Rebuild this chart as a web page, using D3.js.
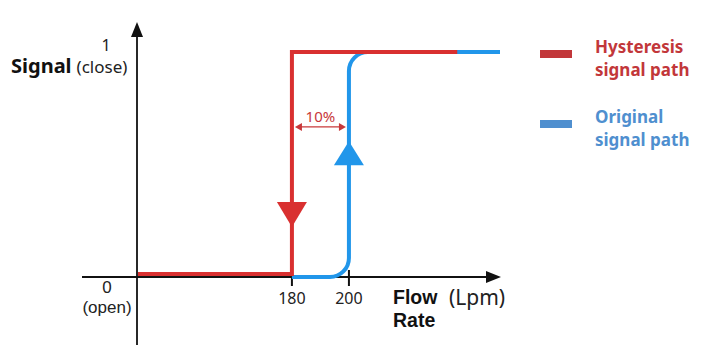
<!DOCTYPE html>
<html><head><meta charset="utf-8">
<script src="https://cdn.jsdelivr.net/npm/d3@7"></script>
<style>
html,body{margin:0;padding:0;background:#fff;}
svg{display:block;font-family:"Noto Sans",sans-serif;}
</style></head>
<body><svg id="c" width="720" height="360"></svg>
<script>
// ---- data ----
const xTickValues = [180, 200];
const xTickLabels = ["180", "200"];
const yTickValues = [0, 1];
const yTickLabels = ["0", "1"];
const yTickSubLabels = ["(open)", "(close)"];
const seriesNames = ["Hysteresis\nsignal path", "Original\nsignal path"];
const hysteresisPath = [[126, 0], [180, 0], [180, 1], [238, 1]];
const originalPath = [[180, 0], [200, 0], [200, 1], [253, 1]];
const hysteresisArrow = {x: 180, y: 0.28, dir: "down"};
const originalArrow = {x: 200, y: 0.55, dir: "up"};
const gapLabel = "10%";
const gapLevel = 0.667;

// ---- layout / style ----
const red = "#d93030", blue = "#2196ea";
const legRed = "#c2373a", legBlue = "#4f8fcf";
const svg = d3.select("#c");
const x = d3.scaleLinear().domain([126, 253]).range([138, 500]);
const y = d3.scaleLinear().domain([0, 1]).range([277, 52]);

// axes
const axisCol = "#111";
svg.append("line").attr("x1", 137).attr("x2", 137).attr("y1", 345).attr("y2", 30)
  .attr("stroke", axisCol).attr("stroke-width", 1.8);
svg.append("path").attr("d", "M137,22 L131,37 L143,37 Z").attr("fill", axisCol);
svg.append("line").attr("x1", 82).attr("x2", 492).attr("y1", y(0)).attr("y2", y(0))
  .attr("stroke", axisCol).attr("stroke-width", 1.8);
svg.append("path").attr("d", `M501,${y(0)} L486,${y(0)-6} L486,${y(0)+6} Z`).attr("fill", axisCol);

// x ticks
xTickValues.forEach((v, i) => {
  svg.append("line").attr("x1", x(v)).attr("x2", x(v)).attr("y1", y(0) - 7).attr("y2", y(0) + 9)
    .attr("stroke", axisCol).attr("stroke-width", 2);
  svg.append("text").attr("x", x(v)).attr("y", 304).attr("text-anchor", "middle")
    .attr("font-size", 16).attr("fill", "#222").text(xTickLabels[i]);
});

// y labels
const y0t = svg.append("text").attr("x", 107).attr("y", 293).attr("text-anchor", "middle")
  .attr("font-family", "'Liberation Sans', sans-serif")
  .attr("font-size", 17).attr("fill", "#222");
y0t.append("tspan").attr("x", 107).text(yTickLabels[0]);
y0t.append("tspan").attr("x", 107).attr("dy", 19.5).text(yTickSubLabels[0]);
svg.append("text").attr("x", 106).attr("y", 51).attr("text-anchor", "middle")
  .attr("font-size", 16).attr("fill", "#222").text(yTickLabels[1]);
const sig = svg.append("text").attr("x", 11).attr("y", 73).attr("fill", "#111");
sig.append("tspan").attr("font-size", 20).attr("font-weight", "bold").text("Signal");
sig.append("tspan").attr("font-size", 17).attr("fill", "#222").attr("dx", 5).text(yTickSubLabels[1]);

// x axis title
const ft = svg.append("text").attr("x", 393).attr("y", 304).attr("font-size", 19.5).attr("font-weight", "bold")
  .attr("font-family", "'Liberation Sans', sans-serif").attr("fill", "#111");
ft.append("tspan").attr("x", 393).text("Flow");
ft.append("tspan").attr("x", 393).attr("dy", 22.5).text("Rate");
svg.append("text").attr("x", 449).attr("y", 305).attr("font-size", 21)
  .attr("fill", "#222").text("(Lpm)");

// paths
function roundedPath(pts, r, dy) {
  const p = d3.path();
  const P = pts.map(d => [x(d[0]), y(d[1]) + (d[1] === 0 ? dy : 0)]);
  p.moveTo(P[0][0], P[0][1]);
  for (let i = 1; i < P.length - 1; i++) {
    if (r > 0) p.arcTo(P[i][0], P[i][1], P[i + 1][0], P[i + 1][1], r);
    else p.lineTo(P[i][0], P[i][1]);
  }
  p.lineTo(P[P.length - 1][0], P[P.length - 1][1]);
  return p.toString();
}
svg.append("path").attr("d", roundedPath(originalPath, 19, 0)).attr("fill", "none")
  .attr("stroke", blue).attr("stroke-width", 4);
svg.append("path").attr("d", roundedPath(hysteresisPath, 0, -3)).attr("fill", "none")
  .attr("stroke", red).attr("stroke-width", 4).attr("stroke-linejoin", "miter");

// direction triangles
function tri(a, col) {
  const cx = x(a.x), cy = y(a.y);
  const d = a.dir === "down"
    ? `M${cx-15},${cy-12} L${cx+15},${cy-12} L${cx},${cy+13} Z`
    : `M${cx},${cy-12} L${cx+15},${cy+12} L${cx-15},${cy+12} Z`;
  svg.append("path").attr("d", d).attr("fill", col);
}
tri(hysteresisArrow, red);
tri(originalArrow, blue);

// 10% gap annotation
const ay = y(gapLevel), ax1 = x(180) + 3, ax2 = x(200) - 3;
svg.append("line").attr("x1", ax1 + 3).attr("x2", ax2 - 3).attr("y1", ay).attr("y2", ay)
  .attr("stroke", "#c8383a").attr("stroke-width", 1.3);
svg.append("path").attr("d", `M${ax1},${ay} L${ax1+7},${ay-4} L${ax1+7},${ay+4} Z`).attr("fill", "#c8383a");
svg.append("path").attr("d", `M${ax2},${ay} L${ax2-7},${ay-4} L${ax2-7},${ay+4} Z`).attr("fill", "#c8383a");
svg.append("text").attr("x", (ax1 + ax2) / 2).attr("y", ay - 5).attr("text-anchor", "middle")
  .attr("font-size", 15).attr("fill", "#c8383a").text(gapLabel);

// legend
const legCols = [legRed, legBlue];
seriesNames.forEach((name, i) => {
  const top = 50 + i * 70;
  svg.append("rect").attr("x", 540).attr("y", top).attr("width", 32).attr("height", 8).attr("fill", legCols[i]);
  const t = svg.append("text").attr("x", 595).attr("y", top + 3).attr("font-size", 17)
    .attr("font-weight", "bold").attr("fill", legCols[i]);
  name.split("\n").forEach((ln, j) => {
    t.append("tspan").attr("x", 595).attr("dy", j === 0 ? 0 : 23).text(ln);
  });
});
</script>
</body></html>
